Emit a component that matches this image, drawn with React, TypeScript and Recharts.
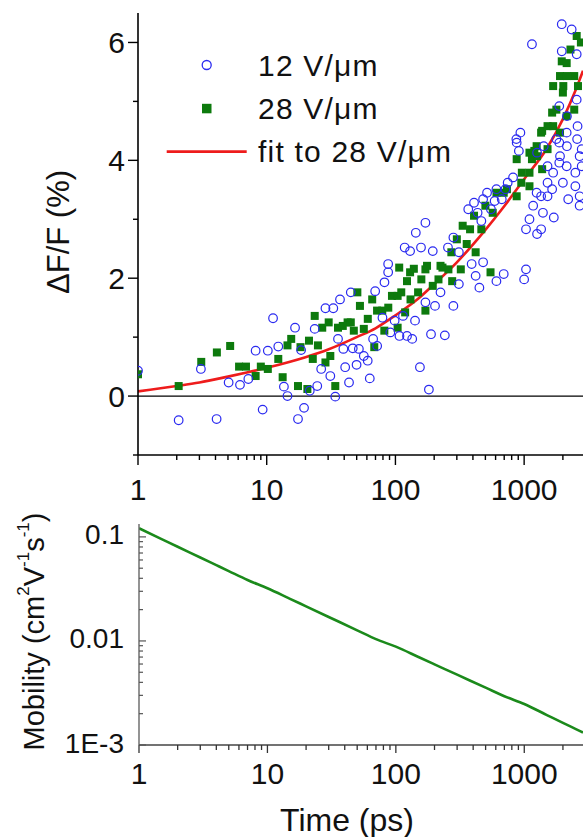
import React from 'react';
import { ComposedChart, LineChart, Line, Scatter, XAxis, YAxis, ReferenceLine, Legend } from 'recharts';

const FONT = '"Liberation Sans", Arial, Helvetica, sans-serif';
const BLUE = '#2a2af0';
const GREEN = '#0d7a0d';
const RED = '#ee1c1c';
const MOB_GREEN = '#1b8a1b';

// ---------- axes ----------
const timeDomain: [number, number] = [1, 2866];
const timeTicks = [1, 2, 3, 4, 5, 6, 7, 8, 9, 10, 20, 30, 40, 50, 60, 70, 80, 90, 100, 200, 300, 400, 500, 600, 700, 800, 900, 1000, 2000];
const timeMajor = [1, 10, 100, 1000];

const dffDomain: [number, number] = [-1, 6.5];
const dffTicks = [-1, 0, 1, 2, 3, 4, 5, 6];
const dffMajor = [0, 2, 4, 6];

const mobDomain: [number, number] = [0.001, 0.133];
const mobTicks = [0.001, 0.002, 0.003, 0.004, 0.005, 0.006, 0.007, 0.008, 0.009, 0.01, 0.02, 0.03, 0.04, 0.05, 0.06, 0.07, 0.08, 0.09, 0.1];
const mobMajor = [0.001, 0.01, 0.1];
const mobTickLabels = ['1E-3', '0.01', '0.1'];

// ---------- data ----------
const seriesNames = ['12 V/\u03bcm', '28 V/\u03bcm', 'fit to 28 V/\u03bcm'];

const field12: [number, number][] = [
  [1.0, 0.43], [2.07, -0.41], [3.08, 0.46], [4.08, -0.39], [5.06, 0.23], [6.2, 0.19], [7.2, 0.29], [8.2, 0.77],
  [9.3, -0.23], [10.2, 0.77], [11.2, 1.32], [12.3, 0.84], [13.6, 0.16], [14.5, 0.0], [16.6, 1.16], [17.5, -0.39],
  [18.5, 0.78], [19.5, -0.2], [21.6, 0.09], [23.6, 1.14], [24.7, 0.17], [26.5, 0.46], [28.6, 1.49], [31.2, 0.34],
  [32.9, 1.49], [34.1, -0.01], [35.8, 0.97], [37.1, 1.64], [39.4, 0.8], [40.7, 0.49], [43.6, 0.23], [45, 1.76],
  [46.6, 0.81], [49.9, 0.53], [52, 0.8], [56.8, 0.68], [60.9, 0.6], [63.2, 0.3], [67.1, 0.97], [69.6, 1.78],
  [72.1, 0.85], [79.3, 1.33], [82.2, 1.93], [87.8, 2.1], [87.8, 2.24], [91.3, 1.08], [98.6, 1.28], [107.5, 1.02],
  [114.5, 1.36], [118, 2.52], [123, 1.02], [130, 2.46], [135, 0.97], [142, 1.28], [144, 2.77], [155, 0.49],
  [158, 2.52], [171, 1.59], [171, 2.94], [182, 0.11], [189, 1.05], [195, 2.46], [203, 1.53], [224, 1.76],
  [242, 1.03], [256, 2.52], [282, 1.53], [282, 2.69], [311, 1.9], [311, 2.44], [368, 3.17], [391, 2.24],
  [408, 3.28], [420, 2.04], [435, 3.11], [449, 1.84], [465, 2.97], [480, 2.27], [480, 3.34], [515, 3.45],
  [552, 3.17], [590, 3.31], [609, 1.95], [609, 3.51], [670, 3.34], [694, 2.07], [716, 3.51], [745, 3.62],
  [820, 3.71], [870, 4.36], [875, 4.3], [910, 4.16], [935, 4.47], [1000, 1.98], [1034, 2.15], [1034, 2.83],
  [1100, 3.0], [1150, 5.97], [1175, 3.23], [1250, 3.45], [1260, 4.13], [1260, 2.75], [1355, 3.39], [1355, 2.83],
  [1400, 3.11], [1420, 4.24], [1520, 3.9], [1520, 3.62], [1520, 3.39], [1650, 3.51], [1680, 3.79], [1700, 3.03],
  [1780, 4.36], [1875, 3.96], [1875, 4.92], [1875, 4.3], [1900, 4.07], [1960, 6.31], [1960, 5.85], [2000, 3.62],
  [2140, 4.47], [2140, 3.9], [2150, 4.75], [2150, 4.24], [2200, 3.34], [2340, 6.22], [2500, 3.79], [2500, 3.56],
  [2560, 5.8], [2560, 5.03], [2580, 4.36], [2600, 4.58], [2700, 3.23], [2700, 4.07], [2700, 3.39], [2800, 4.19],
  [2800, 3.9],
];

const field28: [number, number][] = [
  [1, 0.37], [2.07, 0.17], [3.1, 0.58], [4.1, 0.74], [5.2, 0.85], [6.1, 0.5], [6.9, 0.5], [8.2, 0.34], [9.0, 0.5],
  [10.2, 0.46], [12.3, 0.63], [13.3, 0.32], [14.5, 0.86], [15.5, 0.97], [17.5, 0.17], [18.3, 0.83], [20.7, 0.12],
  [21.3, 0.94], [22.8, 0.63], [23.6, 1.36], [25, 0.86], [27, 1.16], [28.6, 0.57], [30.3, 1.25], [31.2, 0.68],
  [34.1, 0.17], [35.8, 1.16], [39, 1.19], [42.5, 1.25], [45, 1.25], [47.5, 1.11], [50.6, 1.76], [53, 1.53],
  [56.8, 1.14], [61, 1.31], [66, 1.64], [68.5, 0.83], [72, 1.45], [79, 1.45], [82, 1.11], [88, 1.5], [94, 1.7],
  [104, 1.16], [104, 1.7], [107, 2.18], [111, 1.76], [119, 1.42], [123, 1.95], [130, 2.1], [131, 1.64], [139, 2.16],
  [150, 1.76], [159, 1.98], [171, 1.45], [171, 2.15], [176, 2.21], [195, 1.87], [216, 1.98], [224, 2.21], [232, 2.18],
  [258, 2.15], [272, 2.44], [276, 1.95], [300, 2.66], [322, 2.15], [333, 2.89], [358, 2.58], [380, 2.83], [408, 3.06],
  [420, 2.44], [465, 2.83], [500, 3.23], [548, 2.1], [570, 3.11], [610, 3.45], [694, 3.45], [735, 3.51], [875, 4.02],
  [875, 3.39], [950, 3.62], [960, 3.79], [1100, 4.13], [1100, 3.79], [1100, 3.56], [1150, 4.02], [1200, 4.16],
  [1250, 4.24], [1260, 4.07], [1355, 4.47], [1380, 4.5], [1380, 3.85], [1520, 4.58], [1520, 4.19], [1650, 4.81],
  [1680, 5.26], [1680, 4.58], [1780, 4.86], [1900, 5.43], [1900, 4.47], [1960, 5.68], [2000, 5.15], [2015, 5.26],
  [2140, 5.65], [2140, 4.75], [2150, 5.43], [2290, 5.88], [2450, 5.43], [2450, 4.86], [2560, 6.11], [2620, 5.26],
  [2760, 6.0],
];

const fit28: [number, number][] = [
  [1, 0.08], [2, 0.17], [3, 0.23], [5, 0.33], [7, 0.4], [10, 0.48], [20, 0.66], [30, 0.79], [50, 1.0], [70, 1.15],
  [100, 1.37], [150, 1.65], [200, 1.9], [300, 2.27], [500, 2.82], [700, 3.22], [1000, 3.68], [1500, 4.2], [2000, 4.7],
  [2500, 5.18], [2866, 5.52],
];

const mobility: [number, number][] = [
  [1, 0.121], [1.5, 0.0953], [2, 0.0804], [3, 0.0634], [4, 0.0535], [5, 0.0469], [7, 0.0385], [10, 0.0321],
  [15, 0.0254], [20, 0.0215], [30, 0.017], [50, 0.01265], [70, 0.0104], [100, 0.00881], [150, 0.00701],
  [200, 0.00596], [300, 0.00474], [500, 0.00356], [700, 0.00294], [1000, 0.00248], [1500, 0.00194],
  [2000, 0.00163], [2500, 0.00143], [2866, 0.00132],
];

const toXY = (arr: [number, number][]) => arr.map(([x, y]) => ({ x, y }));
const data12 = toXY(field12);
const data28 = toXY(field28);
const dataFit = toXY(fit28);
const dataMob = toXY(mobility);

// ---------- tick helpers ----------
const inList = (v: number, list: number[]) => list.findIndex((m) => Math.abs(m - v) <= Math.max(Math.abs(m), 1e-12) * 1e-6 || m === v);

type TickOpts = {
  side: 'bottom' | 'top' | 'left';
  inward: boolean;
  major: number[];
  majorLen: number;
  minorLen: number;
  labels?: string[];
  showLabels: boolean;
  labelOffset: number;
  labelDy?: number;
  fontSize: number;
  color: string;
  width: number;
};

function makeTick(o: TickOpts) {
  return (props: any) => {
    const { x, y, payload } = props;
    const v = Number(payload.value);
    const idx = inList(v, o.major);
    const maj = idx >= 0;
    const len = maj ? o.majorLen : o.minorLen;
    const lbl = maj && o.showLabels ? (o.labels ? o.labels[idx] : String(v)) : null;
    if (o.side === 'left') {
      const d = o.inward ? 1 : -1;
      return (
        <g>
          <line x1={x} x2={x + d * len} y1={y} y2={y} stroke={o.color} strokeWidth={o.width} />
          {lbl !== null && (
            <text x={x - o.labelOffset} y={y + (o.labelDy || 0)} textAnchor="end" dominantBaseline="central"
              fontSize={o.fontSize} fontFamily={FONT} fill="#111">{lbl}</text>
          )}
        </g>
      );
    }
    if (o.side === 'top') {
      const d = o.inward ? 1 : -1;
      return (
        <g>
          <line x1={x} x2={x} y1={y} y2={y + d * len} stroke={o.color} strokeWidth={o.width} />
        </g>
      );
    }
    const d = o.inward ? -1 : 1;
    return (
      <g>
        <line x1={x} x2={x} y1={y} y2={y + d * len} stroke={o.color} strokeWidth={o.width} />
        {lbl !== null && (
          <text x={x} y={y + o.labelOffset} textAnchor="middle" dominantBaseline="central"
            fontSize={o.fontSize} fontFamily={FONT} fill="#111">{lbl}</text>
        )}
      </g>
    );
  };
}

const topBottomTick = makeTick({ side: 'bottom', inward: false, major: timeMajor, majorLen: 10, minorLen: 5, showLabels: true, labelOffset: 34, fontSize: 30, color: '#000', width: 1.4 });
const topTopTick = makeTick({ side: 'top', inward: true, major: timeMajor, majorLen: 10, minorLen: 5, showLabels: false, labelOffset: 0, fontSize: 30, color: '#000', width: 1.4 });
const topLeftTick = makeTick({ side: 'left', inward: false, major: dffMajor, majorLen: 10, minorLen: 5, showLabels: true, labelOffset: 13, fontSize: 30, color: '#000', width: 1.4 });

const botBottomTick = makeTick({ side: 'bottom', inward: false, major: timeMajor, majorLen: 8, minorLen: 5, showLabels: true, labelOffset: 28, fontSize: 30, color: '#333', width: 1.3 });
const botLeftTick = makeTick({ side: 'left', inward: true, major: mobMajor, majorLen: 7, minorLen: 4, labels: mobTickLabels, showLabels: true, labelOffset: 15, labelDy: -2, fontSize: 28, color: '#555', width: 1.2 });

// ---------- labels ----------
const dffLabel = (p: any) => {
  const vb = p.viewBox || {};
  const cx = (vb.x || 0) + 50;
  const cy = (vb.y || 0) + (vb.height || 0) / 2 - 2;
  return (
    <text x={cx} y={cy} transform={`rotate(-90 ${cx} ${cy})`} textAnchor="middle" dominantBaseline="central"
      fontSize={31} fontFamily={FONT} fill="#111">{'\u0394F/F (%)'}</text>
  );
};

const mobLabel = (p: any) => {
  const vb = p.viewBox || {};
  const cx = (vb.x || 0) + 26;
  const cy = (vb.y || 0) + (vb.height || 0) / 2 - 3;
  return (
    <text x={cx} y={cy} transform={`rotate(-90 ${cx} ${cy})`} textAnchor="middle" dominantBaseline="central"
      fontSize={29} fontFamily={FONT} fill="#111">
      Mobility (cm<tspan fontSize={17} dy={-11}>2</tspan><tspan dy={11}>V</tspan>
      <tspan fontSize={17} dy={-11}>-1</tspan><tspan dy={11}>s</tspan>
      <tspan fontSize={17} dy={-11}>-1</tspan><tspan dy={11}>)</tspan>
    </text>
  );
};

const timeLabel = (p: any) => {
  const vb = p.viewBox || {};
  const cx = (vb.x || 0) + (vb.width || 0) / 2 - 14;
  const cy = (vb.y || 0) + 75;
  return (
    <text x={cx} y={cy} textAnchor="middle" dominantBaseline="central" fontSize={32} fontFamily={FONT} fill="#111">Time (ps)</text>
  );
};

// ---------- markers ----------
const OpenCircle = (p: any) => (
  <circle cx={p.cx} cy={p.cy} r={4.3} fill="none" stroke={BLUE} strokeWidth={1.2} />
);
const FilledSquare = (p: any) => (
  <rect x={p.cx - 4} y={p.cy - 4} width={8} height={8} fill={GREEN} />
);

const legendContent = (props: any) => {
  const items = [...(props.payload || [])].sort(
    (a: any, b: any) => seriesNames.indexOf(a.value) - seriesNames.indexOf(b.value)
  );
  return (
    <svg width={430} height={170} style={{ display: 'block', overflow: 'visible' }}>
      {items.map((it: any, i: number) => {
        const cy = 57 + i * 43.3;
        let marker = null;
        if (it.type === 'circle') marker = <circle cx={198.7} cy={cy} r={4.5} fill="none" stroke={BLUE} strokeWidth={1.3} />;
        else if (it.type === 'square') marker = <rect x={194} y={cy - 4.5} width={9.5} height={9.5} fill={GREEN} />;
        else marker = <line x1={158.7} x2={238.7} y1={cy} y2={cy} stroke={RED} strokeWidth={2.6} />;
        return (
          <g key={String(it.value)}>
            {marker}
            <text x={250} y={cy} dominantBaseline="central" fontSize={30} fontFamily={FONT} fill="#111" letterSpacing={1.2}>{it.value}</text>
          </g>
        );
      })}
    </svg>
  );
};

export default function App() {
  return (
    <div style={{ position: 'absolute', left: 0, top: 0, width: 583, height: 837, overflow: 'hidden', boxSizing: 'border-box', padding: '8px 0 0 8px', fontFamily: FONT, background: '#fff' }}>
      <ComposedChart width={575} height={505} margin={{ top: 5, right: 0, bottom: 0, left: 0 }}>
        <XAxis xAxisId="b" dataKey="x" type="number" scale="log" domain={timeDomain} allowDataOverflow
          ticks={timeTicks} interval={0} tickSize={0} tickMargin={0} tickLine={false}
          axisLine={{ stroke: '#000', strokeWidth: 1.6 }} tick={topBottomTick} height={58} />
        <XAxis xAxisId="t" orientation="top" dataKey="x" type="number" scale="log" domain={timeDomain} allowDataOverflow
          ticks={timeTicks} interval={0} tickSize={0} tickMargin={0} tickLine={false}
          axisLine={{ stroke: '#000', strokeWidth: 1.6 }} tick={topTopTick} height={0} />
        <YAxis dataKey="y" type="number" domain={dffDomain} allowDataOverflow ticks={dffTicks} interval={0}
          tickSize={0} tickMargin={0} tickLine={false} axisLine={{ stroke: '#000', strokeWidth: 1.6 }}
          tick={topLeftTick} width={130} label={dffLabel} />
        <ReferenceLine xAxisId="b" y={0} stroke="#000" strokeWidth={1.2} />
        <Scatter xAxisId="b" name={seriesNames[1]} data={data28} shape={FilledSquare} legendType="square" fill={GREEN} isAnimationActive={false} />
        <Scatter xAxisId="b" name={seriesNames[0]} data={data12} shape={OpenCircle} legendType="circle" fill={BLUE} isAnimationActive={false} />
        <Line xAxisId="b" name={seriesNames[2]} data={dataFit} dataKey="y" type="monotone" stroke={RED} strokeWidth={2.6}
          dot={false} activeDot={false} legendType="line" isAnimationActive={false} />
        <Legend layout="vertical" align="center" verticalAlign="middle" content={legendContent}
          wrapperStyle={{ left: 0, top: 0, width: 430, height: 170 }} />
      </ComposedChart>
      <LineChart width={575} height={324} data={dataMob} margin={{ top: 11, right: 0, bottom: 0, left: 0 }}>
        <XAxis xAxisId="b" dataKey="x" type="number" scale="log" domain={timeDomain} allowDataOverflow
          ticks={timeTicks} interval={0} tickSize={0} tickMargin={0} tickLine={false}
          axisLine={{ stroke: '#444', strokeWidth: 1.5 }} tick={botBottomTick} height={92} label={timeLabel} />
        <XAxis xAxisId="t" orientation="top" dataKey="x" type="number" scale="log" domain={timeDomain} allowDataOverflow
          tick={false} tickLine={false} axisLine={{ stroke: '#777', strokeWidth: 1.3 }} height={0} />
        <YAxis type="number" scale="log" domain={mobDomain} allowDataOverflow ticks={mobTicks} interval={0}
          tickSize={0} tickMargin={0} tickLine={false} axisLine={{ stroke: '#666', strokeWidth: 1.4 }}
          tick={botLeftTick} width={131} label={mobLabel} />
        <Line xAxisId="b" dataKey="y" type="monotone" stroke={MOB_GREEN} strokeWidth={2.6} dot={false} activeDot={false}
          isAnimationActive={false} />
      </LineChart>
    </div>
  );
}
